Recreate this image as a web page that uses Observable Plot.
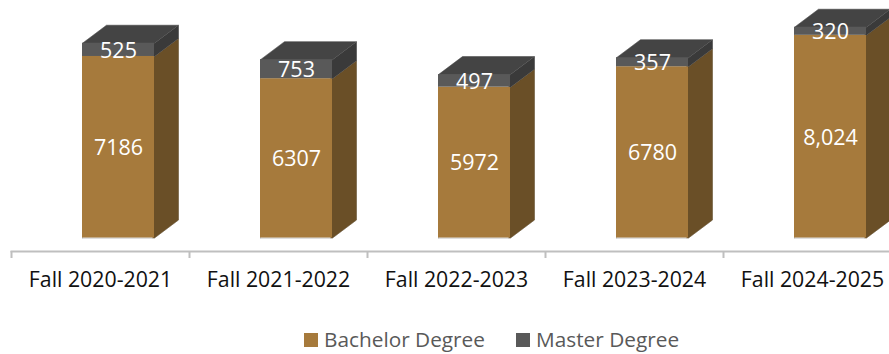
<!DOCTYPE html>
<html><head><meta charset="utf-8">
<script src="https://cdn.jsdelivr.net/npm/d3@7"></script>
<script src="https://cdn.jsdelivr.net/npm/@observablehq/plot@0.6"></script>
<style>
html,body{margin:0;padding:0;background:#fff;width:889px;height:354px;overflow:hidden}
svg{display:block}
#legend{position:relative;height:32px;font:20.8px "Open Sans",sans-serif;color:#595959}
#legend i{position:absolute;top:11px;width:14px;height:14px}
#legend span{position:absolute;top:4px;line-height:27px;white-space:nowrap}
</style></head><body>
<div id="chart"></div>
<div id="legend"></div>
<script>
const categories = ["Fall 2020-2021","Fall 2021-2022","Fall 2022-2023","Fall 2023-2024","Fall 2024-2025"];
const bachelor = [7186,6307,5972,6780,8024];
const master = [525,753,497,357,320];
const bachelorLabels = ["7186","6307","5972","6780","8,024"];
const masterLabels = ["525","753","497","357","320"];

const colors = {brown:"#A67A3C",brownSide:"#6A4F27",grey:"#595959",greySide:"#3A3A3A",greyTop:"#444444",edge:"#BDBDBD"};
const left=71/178, right=143/178, mid=107/178, dx=24/178, dy=712, overlap=0.01;

const rows = categories.map((c,i)=>({i,b:bachelor[i],t:bachelor[i]+master[i],x1:i+left,x2:i+right}));
const poly = (fn)=>rows.flatMap(r=>fn(r).map(([x,y])=>({id:r.i,x,y})));
const face = (fn,fill)=>Plot.line(poly(fn),{x:"x",y:"y",z:"id",fill,stroke:fill,strokeWidth:0.3,curve:"linear"});

const sideBrown = r=>[[r.x2-overlap,0],[r.x2,0],[r.x2+dx,dy],[r.x2+dx,r.b+dy],[r.x2,r.b],[r.x2-overlap,r.b]];
const sideGrey = r=>[[r.x2-overlap,r.b],[r.x2,r.b],[r.x2+dx,r.b+dy],[r.x2+dx,r.t+dy],[r.x2,r.t],[r.x2-overlap,r.t]];
const top3d = r=>[[r.x1,r.t-40],[r.x1,r.t],[r.x1+dx,r.t+dy],[r.x2+dx,r.t+dy],[r.x2,r.t],[r.x2,r.t-40]];
const outline = r=>[[r.x1,0],[r.x1,r.t],[r.x1+dx,r.t+dy],[r.x2+dx,r.t+dy],[r.x2+dx,dy],[r.x2,0],[r.x1,0]];

const chart = Plot.plot({
  width:889,height:322,marginTop:0,marginLeft:11,marginRight:0,marginBottom:71,
  x:{domain:[0,5],range:[11,901]},
  y:{domain:[0,9000],range:[237.5,10.16],axis:null},
  marks:[
    Plot.line(poly(outline),{x:"x",y:"y",z:"id",stroke:colors.edge,strokeWidth:1,curve:"linear"}),
    face(sideBrown,colors.brownSide),
    face(sideGrey,colors.greySide),
    face(top3d,colors.greyTop),
    Plot.rectY(rows,{x1:"x1",x2:"x2",y1:0,y2:"b",fill:colors.brown,inset:0}),
    Plot.rectY(rows,{x1:"x1",x2:"x2",y1:"b",y2:"t",fill:colors.grey,inset:0}),
    Plot.text(rows,{x:r=>r.i+mid,y:r=>r.b/2,dy:1,text:r=>bachelorLabels[r.i],fill:"white",fontSize:21.5,fontFamily:"Open Sans"}),
    Plot.text(rows,{x:r=>r.i+mid,y:r=>r.b+master[r.i]/2,dy:1,text:r=>masterLabels[r.i],fill:"white",fontSize:21.5,fontFamily:"Open Sans"}),
    Plot.frame({anchor:"bottom",stroke:"#BFBFBF",strokeWidth:2}),
    Plot.axisX({ticks:d3.range(0,6),tickSize:7,tickFormat:()=>"",stroke:"#BFBFBF",strokeWidth:2,label:null}),
    Plot.axisX({ticks:d3.range(0,5).map(i=>i+0.5),tickSize:0,tickPadding:20,tickFormat:v=>categories[v-0.5],fill:"#111",fontSize:21.3,fontFamily:"Open Sans",label:null})
  ]
});
document.getElementById("chart").append(chart);

const leg = document.getElementById("legend");
[["Bachelor Degree",colors.brown,304,324],["Master Degree",colors.grey,516,536]].forEach(([t,c,sx,tx])=>{
  const i=document.createElement("i");i.style.left=sx+"px";i.style.background=c;leg.append(i);
  const s=document.createElement("span");s.style.left=tx+"px";s.textContent=t;leg.append(s);
});
</script></body></html>
